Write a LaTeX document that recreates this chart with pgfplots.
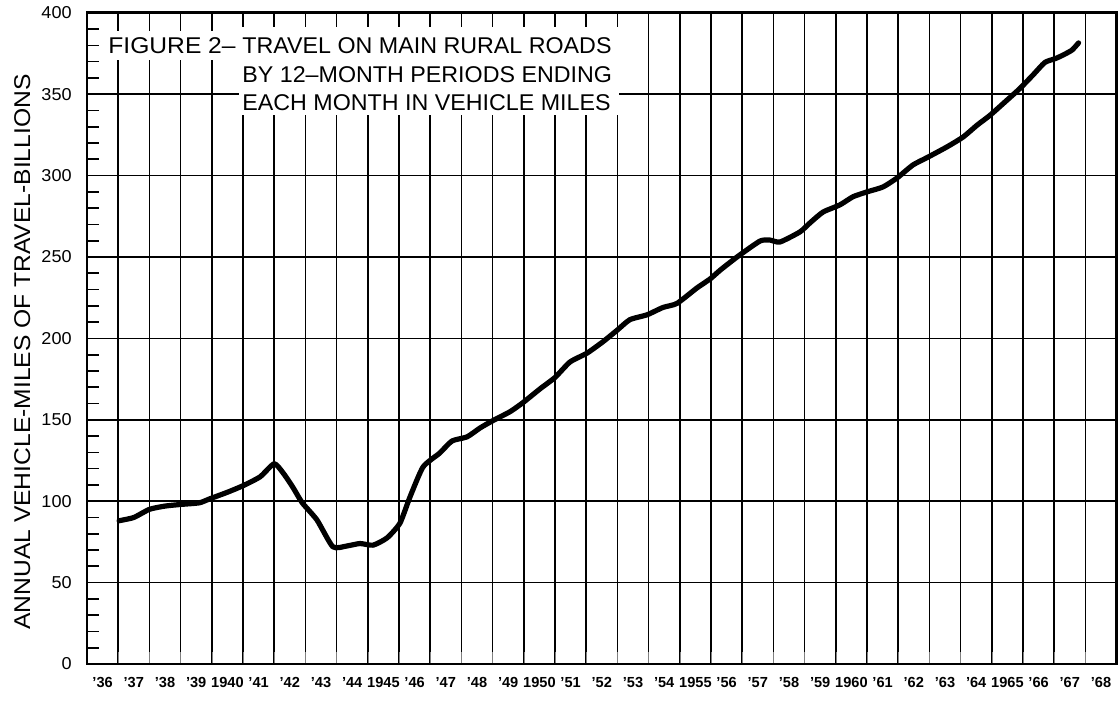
\documentclass[border=0pt]{standalone}
\usepackage{fontspec}
\setmainfont{Liberation Sans}
\usepackage{pgfplots}
\pgfplotsset{compat=1.18}
\begin{document}
\begin{tikzpicture}
\begin{axis}[
  x=15.6bp, y=0.814bp,
  xmin=1936, xmax=1969, ymin=0, ymax=400,
  enlargelimits=false,
  axis line style={line width=1.3bp},
  xtick={1936.5,1937.5,1938.5,1939.5,1940.5,1941.5,1942.5,1943.5,1944.5,1945.5,1946.5,1947.5,1948.5,1949.5,1950.5,1951.5,1952.5,1953.5,1954.5,1955.5,1956.5,1957.5,1958.5,1959.5,1960.5,1961.5,1962.5,1963.5,1964.5,1965.5,1966.5,1967.5,1968.5},
  xticklabels={'36,'37,'38,'39,1940,'41,'42,'43,'44,1945,'46,'47,'48,'49,1950,'51,'52,'53,'54,1955,'56,'57,'58,'59,1960,'61,'62,'63,'64,1965,'66,'67,'68},
  major x tick style={draw=none},
  minor xtick={1937,1938,...,1968},
  xminorgrids=true,
  minor x grid style={black, line width=0.85bp},
  ytick={0,50,...,400},
  ymajorgrids=true,
  major y grid style={black, line width=0.85bp},
  major y tick style={draw=none},
  minor ytick={10,20,30,40,60,70,80,90,110,120,130,140,160,170,180,190,210,220,230,240,260,270,280,290,310,320,330,340,360,370,380,390},
  minor y tick style={black, line width=0.85bp},
  minor tick length=6bp,
  ytick pos=left, xtick pos=bottom,
  tick align=inside,
  xticklabel style={font=\fontsize{7.3bp}{8bp}\selectfont\bfseries, anchor=base, inner sep=0pt, yshift=-11.8bp},
  yticklabel style={font=\fontsize{8.6bp}{10bp}\selectfont, anchor=east, inner sep=0pt, xshift=-7.5bp},
  yticklabel={\scalebox{1.05}[1]{\pgfmathprintnumber[assume math mode=true]{\tick}}},
]
\addplot[black, line width=2.6bp, line join=round, line cap=round, smooth, tension=0.35] coordinates {
(1937.03,88) (1937.5,90) (1938.0,95) (1938.5,97) (1939.0,98) (1939.6,99)
(1939.94,101.5) (1940.5,105.5) (1941.0,109.5) (1941.55,115) (1942.0,123)
(1942.3,117) (1942.6,108.5) (1942.9,99) (1943.37,88.5) (1943.88,72)
(1944.33,72.5) (1944.75,74) (1945.17,73) (1945.62,77.5) (1946.03,86.5)
(1946.35,102.5) (1946.77,121) (1947.3,129.5) (1947.7,137) (1948.18,139.5)
(1948.6,145) (1949.01,149.5) (1949.56,155) (1949.97,160.5) (1950.52,169)
(1951.0,176) (1951.48,185.5) (1952.03,191) (1952.54,198) (1952.99,205)
(1953.4,211.5) (1953.95,214.5) (1954.46,219) (1954.91,221.5) (1955.55,231)
(1955.97,236.5) (1956.3,242) (1956.87,250.5) (1957.57,259.8) (1957.89,260.4)
(1958.21,259.2) (1958.85,265.4) (1959.17,270.9) (1959.59,277.6) (1960.13,282)
(1960.55,287) (1961.0,290) (1961.51,293) (1961.96,298.5) (1962.47,306.5)
(1962.92,311) (1963.56,317.6) (1964.08,323.7) (1964.53,331) (1964.94,337)
(1965.49,346.4) (1965.9,353.5) (1966.32,361.8) (1966.7,369.5) (1967.03,371.8)
(1967.28,374) (1967.57,377.1) (1967.78,381.5)
};
\end{axis}
% title boxes
\fill[white] (6.5bp,302bp) rectangle (76bp,316.5bp);
\fill[white] (76bp,274.5bp) rectangle (266bp,318.5bp);
\begin{scope}[every node/.style={anchor=base west, inner sep=0pt, font=\fontsize{11.4bp}{13bp}\selectfont}]
\node at (10.5bp,305bp) {\scalebox{1.08}[1]{FIGURE 2–}};
\node at (77.5bp,305bp) {\scalebox{1.02}[1]{TRAVEL ON MAIN RURAL ROADS}};
\node at (77.5bp,290.5bp) {\scalebox{1.02}[1]{BY 12–MONTH PERIODS ENDING}};
\node at (77.5bp,276.5bp) {\scalebox{1.02}[1]{EACH MONTH IN VEHICLE MILES}};
\node[rotate=90] at (-28.5bp,17bp) {\scalebox{1.08}[1]{ANNUAL VEHICLE-MILES OF TRAVEL-BILLIONS}};
\end{scope}
\pgfresetboundingbox
\useasboundingbox (-43.5bp,-20bp) rectangle (516bp,332bp);
\end{tikzpicture}
\end{document}
